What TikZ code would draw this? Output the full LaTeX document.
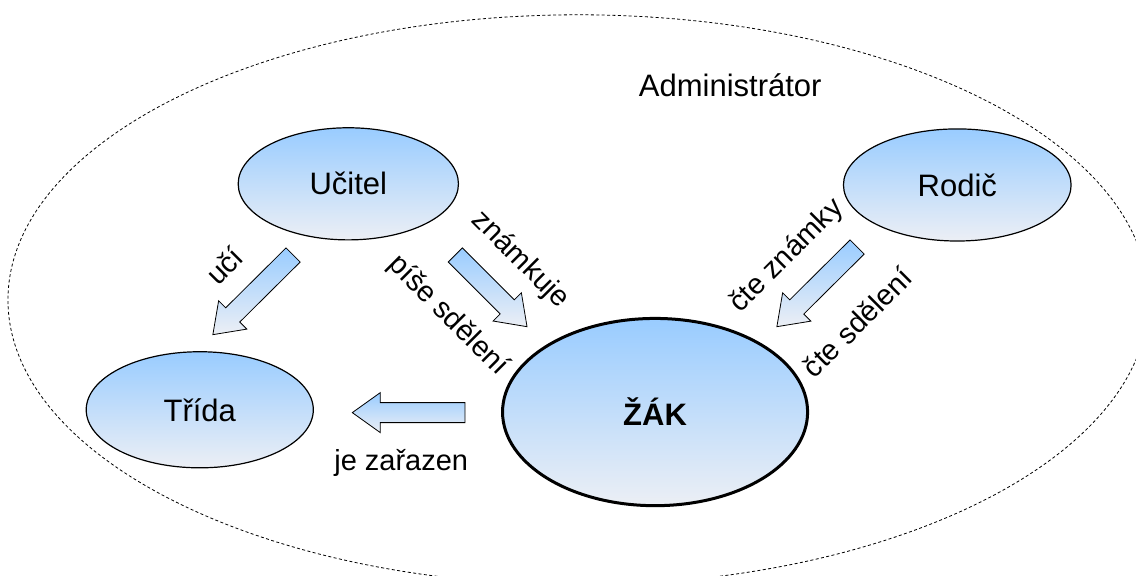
\documentclass[tikz,border=0pt]{standalone}
\usepackage{fontspec}
\setmainfont{Liberation Sans}
\usetikzlibrary{shapes.geometric, calc}
\definecolor{skyblue}{HTML}{99CCFF}
\definecolor{paleblue}{HTML}{ECEFF5}

% block arrow from tail (#1) to tip (#2)
\newcommand{\blockarrow}[2]{%
  \coordinate (hb) at ($(#2)!14pt!(#1)$);
  \draw[blockarr] ($(#1)!5pt!90:(#2)$) -- ($(hb)!5pt!90:(#2)$)
    -- ($(hb)!10pt!90:(#2)$) -- (#2) -- ($(hb)!10pt!-90:(#2)$)
    -- ($(hb)!5pt!-90:(#2)$) -- ($(#1)!5pt!-90:(#2)$) -- cycle;}

\begin{document}
\begin{tikzpicture}[
  actor/.style={ellipse, draw, line width=0.6pt, top color=skyblue,
    bottom color=paleblue, inner sep=0pt, font=\fontsize{15.5}{18}\selectfont},
  blockarr/.style={draw=black, line width=0.4pt, line join=miter,
    top color=skyblue, bottom color=paleblue},
  lbl/.style={font=\fontsize{14.5}{17}\selectfont},
]
\useasboundingbox (0,0) rectangle (19.96,10.12);

% Administrator area
\node[ellipse, draw, line width=0.4pt, dash pattern=on 1.5pt off 1.2pt,
  minimum width=20.04cm, minimum height=10.02cm] (area) at (10.16,4.85) {};
\node[font=\fontsize{15.5}{18}\selectfont] (admin) at (12.83,8.63) {Administrátor};

% =============================================
% Actors
% =============================================
\node[actor, minimum width=3.87cm, minimum height=1.97cm] (ucitel) at (6.12,6.89) {Učitel};
\node[actor, minimum width=4.0cm, minimum height=1.97cm] (rodic) at (16.82,6.87) {Rodič};
\node[actor, minimum width=3.99cm, minimum height=2.04cm] (trida) at (3.51,2.92) {Třída};
\node[actor, line width=1.5pt, minimum width=5.36cm, minimum height=3.29cm,
  font=\fontsize{15.5}{18}\selectfont\bfseries] (zak) at (11.51,2.88) {ŽÁK};

% =============================================
% Arrows
% =============================================
\coordinate (uci-s) at (5.15,5.64);
\coordinate (uci-e) at (3.74,4.24);
\blockarrow{uci-s}{uci-e}

\coordinate (zn-s) at (8.00,5.64);
\coordinate (zn-e) at (9.26,4.38);
\blockarrow{zn-s}{zn-e}

\coordinate (cte-s) at (15.06,5.78);
\coordinate (cte-e) at (13.65,4.38);
\blockarrow{cte-s}{cte-e}

\coordinate (zar-s) at (8.17,2.87);
\coordinate (zar-e) at (6.19,2.87);
\blockarrow{zar-s}{zar-e}

% Labels
\node[lbl, rotate=45] (l-uci) at (3.94,5.45) {učí};
\node[lbl, rotate=-45] (l-znamkuje) at (9.14,5.55) {známkuje};
\node[lbl, rotate=-45] (l-pise) at (7.87,4.57) {píše sdělení};
\node[lbl, rotate=45] (l-znamky) at (13.83,5.62) {čte známky};
\node[lbl, rotate=45] (l-sdeleni) at (15.06,4.46) {čte sdělení};
\node[lbl] (l-zarazen) at (7.05,1.99) {je zařazen};

\end{tikzpicture}
\end{document}
